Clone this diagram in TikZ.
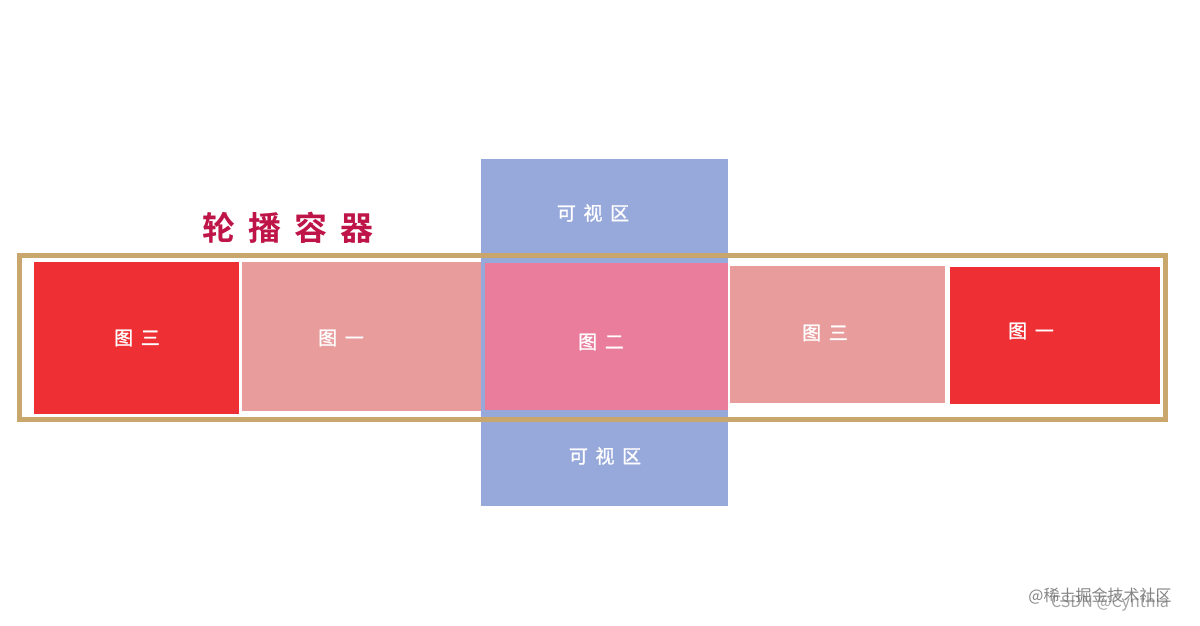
\documentclass[tikz,border=0pt]{standalone}
\usepackage{fontspec}
\setmainfont{Noto Sans CJK SC}
\newfontfamily\titlefont{Noto Sans CJK SC Bold}
\newfontfamily\labelfont[FakeBold=1.2]{Noto Sans CJK SC}
\newcommand{\chgap}{\kern0.4em}
\definecolor{redpic}{RGB}{238,48,53}
\definecolor{pinkpic}{RGB}{232,156,156}
\definecolor{rosepic}{RGB}{234,124,156}
\definecolor{viewblue}{RGB}{151,169,219}
\definecolor{trackgold}{RGB}{201,166,107}
\definecolor{titlered}{RGB}{190,20,72}
\tikzset{
  picbox/.style={inner sep=0, outer sep=0, minimum width=#1},
  pictext/.style={text=white, font=\labelfont\fontsize{19}{19}\selectfont},
  mark text/.style={font=\fontsize{16}{16}\selectfont}
}
\begin{document}
\begin{tikzpicture}[x=1pt,y=-1pt]
\useasboundingbox (0,0) rectangle (1200,625);
\fill[white] (0,0) rectangle (1200,625);

% slides inside the track
\node[picbox=205, minimum height=152, fill=redpic]  (leftthree) at (136.5,338) {};
\node[picbox=240, minimum height=149, fill=pinkpic] (leftone)   at (362,336.5) {};
\node[picbox=215, minimum height=137, fill=pinkpic] (rightthree) at (837.5,334.5) {};
\node[picbox=210, minimum height=137, fill=redpic]  (rightone)  at (1055,335.5) {};

% visible region and the current slide
\node[picbox=247, minimum height=347, fill=viewblue] (view) at (604.5,332.5) {};
\node[picbox=243, minimum height=147, fill=rosepic]  (current) at (606.5,336.5) {};

% the track
\node[picbox=1146, minimum height=164, draw=trackgold, line width=5] (track) at (592,337) {};
\node[text=titlered, font=\titlefont\fontsize{33}{33}\selectfont] (title) at (288,228)
  {轮\chgap 播\chgap 容\chgap 器};

\node[pictext] (txtleftthree)  at (137,338) {图\chgap 三};
\node[pictext] (txtleftone)    at (341,338) {图\chgap 一};
\node[pictext] (txtcurrent)    at (601,342) {图\chgap 二};
\node[pictext] (txtrightthree) at (825,333) {图\chgap 三};
\node[pictext] (txtrightone)   at (1031,331) {图\chgap 一};
\node[pictext] (txtviewtop)    at (593,213) {可\chgap 视\chgap 区};
\node[pictext] (txtviewbottom) at (605,456) {可\chgap 视\chgap 区};

% watermark
\node[mark text, text=black!45, opacity=0.8] (markcsdn) at (1110,603) {CSDN @Cynthia};
\node[mark text, text=black!60, opacity=0.8] (markjj) at (1100,596) {@稀土掘金技术社区};
\end{tikzpicture}
\end{document}
